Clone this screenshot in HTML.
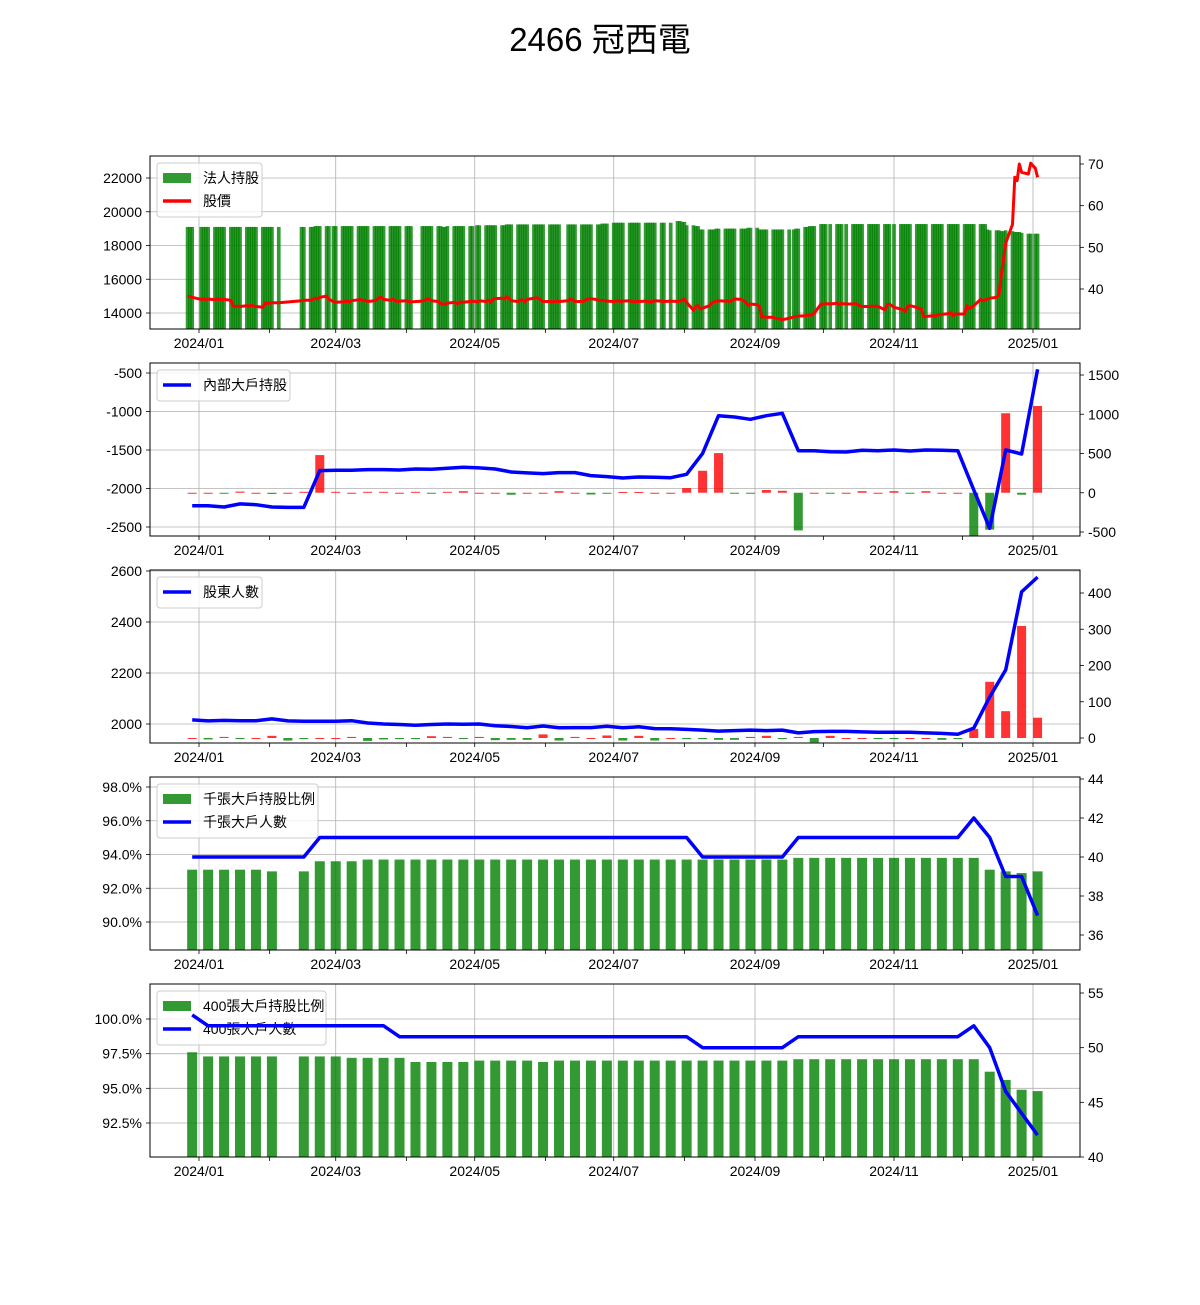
<!DOCTYPE html>
<html><head><meta charset="utf-8"><style>
html,body{margin:0;padding:0;background:#fff;}
svg text{font-family:"Liberation Sans","Noto Sans CJK TC",sans-serif;}
</style></head><body>
<svg id="chart" width="1200" height="1300" xmlns="http://www.w3.org/2000/svg">
<rect width="1200" height="1300" fill="#fff"/>
<text x="600" y="51" font-size="33" text-anchor="middle" fill="#000">2466 冠西電</text>
</svg>
<script>
// ---------- data ----------
const holidays = ["2024-01-01","2024-02-06","2024-02-07","2024-02-08","2024-02-09","2024-02-12","2024-02-13","2024-02-14","2024-02-28","2024-04-04","2024-04-05","2024-05-01","2024-06-10","2024-07-24","2024-07-25","2024-09-17","2024-10-03","2024-10-10","2024-10-31","2025-01-01"];
const instHoldings = [
[19100,19100,19100],[19100,19100,19100,19100],[19100,19100,19100,19100,19100],[19100,19100,19100,19100,19100],
[19100,19100,19100,19100,19100],[19100,19100,19100,19100,19100],[19100],[19100,19100],
[19100,19100,19150,19150,19150],[19150,19150,19150,19150],[19150,19150,19150,19150,19150],[19150,19150,19150,19150,19150],
[19150,19150,19150,19150,19150],[19150,19150,19150,19150,19150],[19150,19150,19150],[19150,19150,19150,19150,19150],
[19150,19150,19100,19100,19150],[19150,19150,19150,19150,19150],[19150,19150,19200,19200],[19200,19200,19200,19200,19200],
[19200,19200,19250,19250,19250],[19250,19250,19250,19250,19250],[19250,19250,19250,19250,19250],[19250,19250,19250,19250,19250],
[19250,19250,19250,19250],[19250,19250,19250,19250,19250],[19250,19250,19300,19300,19300],[19350,19350,19350,19350,19350],
[19350,19350,19350,19350,19350],[19350,19350,19350,19350,19350],[19350,19350,19350],[19450,19450,19400,19400,19200],
[19200,19150,19150,18950,18950],[18950,18950,18950,19000,19000],[19000,19000,19000,19000,19000],[19000,19000,19000,19050,19050],
[19050,18950,18950,18950,18950],[18950,18950,18950,18950,18950],[18950,18950,19000,19000],[19100,19100,19150,19150,19150],
[19270,19270,19270,19270],[19270,19270,19270,19270],[19270,19270,19270,19270,19270],[19270,19270,19270,19270,19270],
[19270,19270,19270,19270],[19270,19270,19270,19270,19270],[19270,19270,19270,19270,19270],[19270,19270,19270,19270,19270],
[19270,19270,19270,19270,19270],[19270,19270,19270,19270,19270],[19270,19270,19270,18950,18900],[18900,18900,18850,18850,18900],
[18850,18800,18800,18800,18750],[18700,18700,18700,18700]].flat();
const stockPrice = [
[38.2,38.2,38.0],[37.5,37.6,37.5,37.6],[37.4,37.6,37.5,37.4,37.5],[37.3,35.9,35.8,35.9,35.8],
[36.0,35.9,36.1,35.9,35.8],[35.6,36.6,36.6,36.6,36.7],[36.7],[37.2,37.3],
[37.3,37.5,37.8,37.6,38.0],[38.3,37.5,37.0,36.8],[36.9,37.0,37.1,36.9,37.2],[37.4,37.5,37.2,37.3,37.0],
[37.2,37.4,37.9,38.0,37.5],[37.3,37.6,37.2,37.0,37.1],[37.2,37.0,36.9],[37.1,37.3,37.5,37.6,37.2],
[37.0,36.5,36.4,36.3,36.6],[36.8,36.5,36.6,36.9,36.8],[37.0,37.1,36.9,37.2],[37.0,37.3,36.8,37.5,37.7],
[37.8,37.6,38.1,37.8,37.2],[37.0,37.3,37.4,36.9,37.5],[37.8,37.9,37.8,37.4,37.0],[37.0,36.9,37.0,37.1,37.0],
[37.2,37.6,37.4,37.0],[37.0,37.1,37.5,37.6,37.7],[37.4,37.2,37.3,37.2,37.1],[37.0,37.1,37.2,37.0,37.1],
[37.2,37.0,36.9,37.0,37.0],[37.1,37.0,36.9,37.0,37.2],[37.1,37.0,37.1],[37.0,37.1,37.3,37.6,36.8],
[34.9,35.8,36.0,35.2,35.4],[36.0,36.6,36.9,37.0,37.2],[37.1,37.2,37.0,37.3,37.6],[37.5,37.2,36.8,36.1,36.4],
[36.2,35.8,33.2,33.4,33.2],[33.2,33.0,32.9,32.8,32.6],[33.0,33.3,33.4,33.5],[33.6,33.7,33.7,33.8,34.2],
[36.4,36.3,36.5,36.4],[36.6,36.3,36.5,36.4],[36.4,36.5,36.3,36.0,35.8],[35.8,35.9,35.8,35.9,35.8],
[35.0,36.2,36.4,35.6],[35.2,35.0,34.6,35.9,36.0],[35.6,35.3,35.3,33.3,33.4],[33.6,33.5,33.7,33.8,33.9],
[34.1,34.3,33.6,34.0,34.0],[34.0,36.0,35.3,35.6,36.0],[37.5,37.2,37.4,37.6,37.8],[38.0,38.5,43.0,47.0,51.0],
[55.5,66.8,66.0,70.0,68.0],[67.6,70.2,69.0,66.8]].flat();

const insiderHold = [-2223,-2225,-2240,-2200,-2210,-2240,-2245,-2245,-1768,-1763,-1763,-1755,-1755,-1760,-1747,-1751,-1738,-1725,-1733,-1747,-1786,-1798,-1807,-1794,-1794,-1833,-1846,-1864,-1851,-1855,-1860,-1816,-1544,-1054,-1071,-1101,-1054,-1024,-1509,-1509,-1522,-1526,-1504,-1509,-1500,-1513,-1500,-1504,-1509,-2020,-2517,-1500,-1552,-452];
const insiderChange = [0,0,-12,15,0,-15,0,12,480,12,0,12,12,0,12,-10,12,20,0,0,-25,0,0,20,0,-22,-10,10,10,0,0,60,280,505,-10,-10,35,25,-480,0,-10,0,20,0,20,-10,20,0,0,-560,-470,1013,-25,1105];
const holderCount = [2016,2012,2014,2013,2013,2020,2012,2011,2011,2011,2013,2004,2000,1998,1995,1998,2000,1999,2000,1993,1990,1985,1992,1985,1986,1986,1991,1985,1989,1982,1981,1979,1976,1972,1974,1976,1974,1976,1965,1970,1971,1971,1969,1968,1968,1968,1965,1963,1960,1984,2106,2212,2518,2576];
const holderChange = [0,-4,3,-3,0,6,-7,-3,0,0,3,-8,-4,-3,-3,5,3,-3,3,-6,-5,-5,10,-7,3,0,7,-7,6,-7,0,-3,-3,-5,-5,3,6,-3,3,-12,6,0,0,-3,-3,0,0,-5,-3,25,155,74,309,56];
const big1000Pct = [93.1,93.1,93.1,93.1,93.1,93.0,null,93.0,93.6,93.6,93.6,93.7,93.7,93.7,93.7,93.7,93.7,93.7,93.7,93.7,93.7,93.7,93.7,93.7,93.7,93.7,93.7,93.7,93.7,93.7,93.7,93.7,93.7,93.7,93.7,93.7,93.7,93.7,93.8,93.8,93.8,93.8,93.8,93.8,93.8,93.8,93.8,93.8,93.8,93.8,93.1,93.0,92.9,93.0];
const big1000Count = [40,40,40,40,40,40,40,40,41,41,41,41,41,41,41,41,41,41,41,41,41,41,41,41,41,41,41,41,41,41,41,41,40,40,40,40,40,40,41,41,41,41,41,41,41,41,41,41,41,42,41,39,39,37];
const big400Pct = [97.6,97.3,97.3,97.3,97.3,97.3,null,97.3,97.3,97.3,97.2,97.2,97.2,97.2,96.9,96.9,96.9,96.9,97.0,97.0,97.0,97.0,96.9,97.0,97.0,97.0,97.0,97.0,97.0,97.0,97.0,97.0,97.0,97.0,97.0,97.0,97.0,97.0,97.1,97.1,97.1,97.1,97.1,97.1,97.1,97.1,97.1,97.1,97.1,97.1,96.2,95.6,94.9,94.8];
const big400Count = [53,52,52,52,52,52,52,52,52,52,52,52,52,51,51,51,51,51,51,51,51,51,51,51,51,51,51,51,51,51,51,51,50,50,50,50,50,50,51,51,51,51,51,51,51,51,51,51,51,52,50,46,44,42];

const p1Left = ["14000","16000","18000","20000","22000"], p1Right = ["40","50","60","70"];
const p2Left = ["-2500","-2000","-1500","-1000","-500"], p2Right = ["-500","0","500","1000","1500"];
const p3Left = ["2000","2200","2400","2600"], p3Right = ["0","100","200","300","400"];
const p4Left = ["90.0","92.0","94.0","96.0","98.0"], p4Right = ["36","38","40","42","44"];
const p5Left = ["92.5","95.0","97.5","100.0"], p5Right = ["40","45","50","55"];

// ---------- helpers ----------
const svg = document.getElementById('chart');
const NS = 'http://www.w3.org/2000/svg';
function mk(tag, attrs, parent){const e=document.createElementNS(NS,tag);for(const k in attrs)e.setAttribute(k,attrs[k]);(parent||svg).appendChild(e);return e;}
const DAY=86400000, T0=Date.UTC(2024,0,1);
function xOf(t){return 199 + (t - T0)/DAY*2.2787;}
function lin(v0,y0,v1,y1){return v=>y0+(v-v0)*(y1-y0)/(v1-v0);}
const L=150,R=1080;

const tradeDays=[];
for(let t=Date.UTC(2023,11,27); t<=Date.UTC(2025,0,3); t+=DAY){
  const d=new Date(t), wd=d.getUTCDay();
  if(wd===0||wd===6) continue;
  if(holidays.includes(d.toISOString().slice(0,10))) continue;
  tradeDays.push(t);
}
const weeks=[]; for(let i=0;i<54;i++) weeks.push(Date.UTC(2023,11,29)+i*7*DAY);

function frame(top,bot,leftTicks,yl,rightTicks,yr,name,pct){
  const g=mk('g',{});
  
  
  for(let m=0;m<=12;m++){
    const t=Date.UTC(2024,m,1), x=xOf(t);
    if(m%2===0){ const gl=mk('line',{x1:x,x2:x,y1:top,y2:bot,stroke:'#b0b0b0','stroke-width':0.8},g);  
      const d=new Date(t); const lab=d.getUTCFullYear()+'/'+String(d.getUTCMonth()+1).padStart(2,'0');
      const tx=mk('text',{x:x,y:bot+19,'font-size':14,'text-anchor':'middle',fill:'#000'},g); tx.textContent=lab;
       }
    mk('line',{x1:x,x2:x,y1:bot,y2:bot+4,stroke:'#000','stroke-width':0.8},g);
  }
  leftTicks.forEach(s=>{const v=parseFloat(s), y=yl(v);
    const gl=mk('line',{x1:L,x2:R,y1:y,y2:y,stroke:'#b0b0b0','stroke-width':0.8},g);  
    mk('line',{x1:L-4,x2:L,y1:y,y2:y,stroke:'#000','stroke-width':0.8},g);
    const tx=mk('text',{x:L-8,y:y+5,'font-size':14,'text-anchor':'end',fill:'#000'},g); tx.textContent=s+(pct?'%':'');
     });
  rightTicks.forEach(s=>{const y=yr(parseFloat(s));
    mk('line',{x1:R,x2:R+4,y1:y,y2:y,stroke:'#000','stroke-width':0.8},g);
    const tx=mk('text',{x:R+8,y:y+5,'font-size':14,'text-anchor':'start',fill:'#000'},g); tx.textContent=s;
     });
  return g;
}
function border(top,bot,name){const b=mk('rect',{x:L,y:top,width:R-L,height:bot-top,fill:'none',stroke:'#000','stroke-width':1});
   }
function clip(id,top,bot){const c=mk('clipPath',{id:id});mk('rect',{x:L,y:top,width:R-L,height:bot-top},c);}
function legend(x,y,w,items,name){
  const g=mk('g',{});
  
  
  mk('rect',{x:x,y:y,width:w,height:8+items.length*23,rx:3,fill:'#fff','fill-opacity':0.8,stroke:'#ccc'},g);
  items.forEach((it,i)=>{const cy=y+15+i*23;
    if(it.type==='bar') mk('rect',{x:x+6,y:cy-5,width:28,height:10,fill:it.color},g);
    else mk('line',{x1:x+6,x2:x+34,y1:cy,y2:cy,stroke:it.color,'stroke-width':3.5},g);
    const t=mk('text',{x:x+46,y:cy+5,'font-size':14,fill:'#000'},g); t.textContent=it.label;
     });
}
function polyline(xs,ys,color,w,cp,name){
  const pts=xs.map((x,i)=>x.toFixed(1)+','+ys[i].toFixed(1)).join(' ');
  const p=mk('polyline',{points:pts,fill:'none',stroke:color,'stroke-width':w,'stroke-linejoin':'round','clip-path':'url(#'+cp+')'});
   
}
const GREEN='rgba(0,128,0,0.8)', RED='rgba(255,0,0,0.8)';

// ---------- panel 1 ----------
{const top=156,bot=329; const yl=lin(14000,313,22000,178), yr=lin(40,289,70,164);
 clip('c1',top,bot); frame(top,bot,p1Left,yl,p1Right,yr,'institutional-panel',false);
 const n=Math.min(tradeDays.length,instHoldings.length);
 for(let i=0;i<n;i++){const x=xOf(tradeDays[i]), y=yl(instHoldings[i]);
   const r=mk('rect',{x:x-1.85,y:y,width:3.7,height:bot-y,fill:GREEN,'clip-path':'url(#c1)'});
    }
 const m=Math.min(tradeDays.length,stockPrice.length);
 polyline(tradeDays.slice(0,m).map(xOf),stockPrice.slice(0,m).map(yr),'#ff0000',3,'c1','price-line');
 legend(157,163,105,[{type:'bar',color:GREEN,label:'法人持股'},{type:'line',color:'#ff0000',label:'股價'}],'legend-panel1');
 border(top,bot,'panel1');}

// ---------- panel 2 ----------
{const top=363,bot=536; const yl=lin(-500,373,-2500,527), yr=lin(1500,375,-500,532);
 clip('c2',top,bot); frame(top,bot,p2Left,yl,p2Right,yr,'insider-panel',false);
 weeks.forEach((t,i)=>{const v=insiderChange[i]; if(v==null)return; const x=xOf(t), y0=yr(0), y1=yr(v);
   const r=mk('rect',{x:x-4.5,y:Math.min(y0,y1),width:9,height:Math.max(1,Math.abs(y1-y0)),fill:v>=0?RED:GREEN,'clip-path':'url(#c2)'});
    });
 polyline(weeks.map(xOf),insiderHold.map(yl),'#0000ff',3.5,'c2','insider-line');
 legend(157,370,133,[{type:'line',color:'#0000ff',label:'內部大戶持股'}],'legend-panel2');
 border(top,bot,'panel2');}

// ---------- panel 3 ----------
{const top=570,bot=743; const yl=lin(2000,724,2600,571), yr=lin(0,738,400,593);
 clip('c3',top,bot); frame(top,bot,p3Left,yl,p3Right,yr,'holders-panel',false);
 weeks.forEach((t,i)=>{const v=holderChange[i]; if(v==null)return; const x=xOf(t), y0=yr(0), y1=yr(v);
   const r=mk('rect',{x:x-4.5,y:Math.min(y0,y1),width:9,height:Math.max(1,Math.abs(y1-y0)),fill:v>=0?RED:GREEN,'clip-path':'url(#c3)'});
    });
 polyline(weeks.map(xOf),holderCount.map(yl),'#0000ff',3.5,'c3','holder-count-line');
 legend(157,577,105,[{type:'line',color:'#0000ff',label:'股東人數'}],'legend-panel3');
 border(top,bot,'panel3');}

// ---------- panel 4 ----------
{const top=777,bot=950; const yl=lin(90,922,98,787), yr=lin(36,935,44,779);
 clip('c4',top,bot); frame(top,bot,p4Left,yl,p4Right,yr,'big1000-panel',true);
 weeks.forEach((t,i)=>{const v=big1000Pct[i]; if(v==null)return; const x=xOf(t), y=yl(v);
   const r=mk('rect',{x:x-5,y:y,width:10,height:bot-y,fill:GREEN,'clip-path':'url(#c4)'});
    });
 legend(157,784,161,[{type:'bar',color:GREEN,label:'千張大戶持股比例'},{type:'line',color:'#0000ff',label:'千張大戶人數'}],'legend-panel4');
 polyline(weeks.map(xOf),big1000Count.map(yr),'#0000ff',3.5,'c4','big1000-count-line');
 border(top,bot,'panel4');}

// ---------- panel 5 ----------
{const top=984,bot=1157; const yl=lin(92.5,1123,100,1019), yr=lin(40,1157,55,993);
 clip('c5',top,bot); frame(top,bot,p5Left,yl,p5Right,yr,'big400-panel',true);
 weeks.forEach((t,i)=>{const v=big400Pct[i]; if(v==null)return; const x=xOf(t), y=yl(v);
   const r=mk('rect',{x:x-5,y:y,width:10,height:bot-y,fill:GREEN,'clip-path':'url(#c5)'});
    });
 legend(157,991,169,[{type:'bar',color:GREEN,label:'400張大戶持股比例'},{type:'line',color:'#0000ff',label:'400張大戶人數'}],'legend-panel5');
 polyline(weeks.map(xOf),big400Count.map(yr),'#0000ff',3.5,'c5','big400-count-line');
 border(top,bot,'panel5');}
</script>
</body></html>
